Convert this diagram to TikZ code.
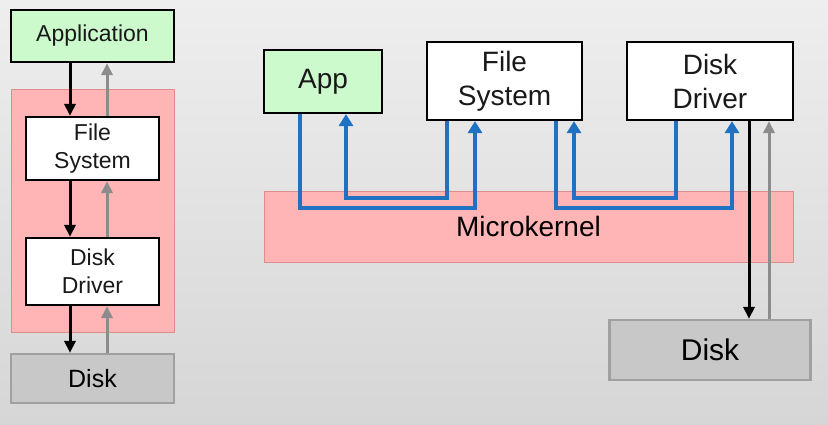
\documentclass[tikz,border=0pt]{standalone}
\usepackage{fontspec}
\setmainfont{Liberation Sans}
\usetikzlibrary{arrows.meta}
\definecolor{appgreen}{RGB}{204,250,204}
\definecolor{kpink}{RGB}{255,181,181}
\definecolor{kpinkline}{RGB}{225,140,140}
\definecolor{diskgrey}{RGB}{200,200,200}
\definecolor{diskline}{RGB}{160,160,160}
\definecolor{msgblue}{RGB}{31,113,193}
\definecolor{upgrey}{RGB}{140,140,140}
\definecolor{bgtop}{RGB}{238,238,238}
\definecolor{bgbot}{RGB}{214,214,214}
\tikzset{
  box/.style={draw=black, line width=2.2pt, inner sep=0pt, align=center, text=black!90},
  appbox/.style={box, fill=appgreen},
  sysbox/.style={box, fill=white},
  kernelbox/.style={draw=kpinkline, line width=1pt, fill=kpink, inner sep=0pt, align=center},
  diskbox/.style={draw=diskline, line width=2.2pt, fill=diskgrey, inner sep=0pt, align=center},
  smalltext/.style={font=\fontsize{23}{28}\selectfont},
  bigtext/.style={font=\fontsize{28}{34}\selectfont},
  downarrow/.style={draw=black, line width=3pt, -{Triangle[length=12pt,width=11pt]}},
  uparrow/.style={draw=upgrey, line width=3pt, -{Triangle[length=12pt,width=11pt]}},
  msgarrow/.style={draw=msgblue, line width=4pt, -{Triangle[length=12pt,width=14pt]}},
}
\begin{document}
\begin{tikzpicture}[x=1pt,y=-1pt]
\shade[top color=bgtop, bottom color=bgbot] (0,0) rectangle (828,424);
\useasboundingbox (0,0) rectangle (828,424);

% ---------- left: monolithic ----------
\node[kernelbox, minimum width=163pt, minimum height=243pt] (lk) at (92.5,210.5) {};
\node[appbox, smalltext, minimum width=163pt, minimum height=52pt] (lapp) at (92.5,36) {Application};
\node[sysbox, smalltext, minimum width=133pt, minimum height=63pt] (lfs) at (92.5,148.5) {File\\System};
\node[sysbox, smalltext, minimum width=133pt, minimum height=67pt] (ldd) at (92.5,271.5) {Disk\\Driver};
\node[diskbox, font=\fontsize{25}{28}\selectfont, minimum width=163pt, minimum height=49pt] (ldisk) at (92.5,378.5) {Disk};

\draw[downarrow] ([xshift=-22.5pt]lapp.south) -- ([xshift=-22.5pt]lfs.north);
\draw[downarrow] ([xshift=-22.5pt]lfs.south) -- ([xshift=-22.5pt]ldd.north);
\draw[downarrow] ([xshift=-22.5pt]ldd.south) -- ([xshift=-22.5pt]ldisk.north);
\draw[uparrow] ([xshift=14.5pt]lfs.north) -- ([xshift=14.5pt]lapp.south);
\draw[uparrow] ([xshift=14.5pt]ldd.north) -- ([xshift=14.5pt]lfs.south);
\draw[uparrow] ([xshift=14.5pt]ldisk.north) -- ([xshift=14.5pt]ldd.south);

% ---------- right: microkernel ----------
\node[kernelbox, bigtext, minimum width=529pt, minimum height=71pt] (mk) at (528.5,226.5) {Microkernel};
\node[appbox, bigtext, minimum width=118pt, minimum height=63pt] (rapp) at (323,81.5) {App};
\node[sysbox, bigtext, minimum width=155pt, minimum height=78pt] (rfs) at (504.5,81) {File\\System};
\node[sysbox, bigtext, minimum width=166pt, minimum height=78pt] (rdd) at (710,81) {Disk\\Driver};
\node[diskbox, font=\fontsize{30}{34}\selectfont, minimum width=201pt, minimum height=60pt] (rdisk) at (710,350) {Disk};

\draw[msgarrow] ([xshift=-23pt]rapp.south) -- ++(0,94) -| ([xshift=-29.5pt]rfs.south);
\draw[msgarrow] ([xshift=-57.5pt]rfs.south) -- ++(0,77) -| ([xshift=23pt]rapp.south);
\draw[msgarrow] ([xshift=51.5pt]rfs.south) -- ++(0,87) -| ([xshift=22pt]rdd.south);
\draw[msgarrow] ([xshift=-34pt]rdd.south) -- ++(0,77) -| ([xshift=69.5pt]rfs.south);

\draw[downarrow] ([xshift=39pt]rdd.south) -- ([xshift=39pt]rdisk.north);
\draw[uparrow] ([xshift=59pt]rdisk.north) -- ([xshift=59pt]rdd.south);
\end{tikzpicture}
\end{document}
